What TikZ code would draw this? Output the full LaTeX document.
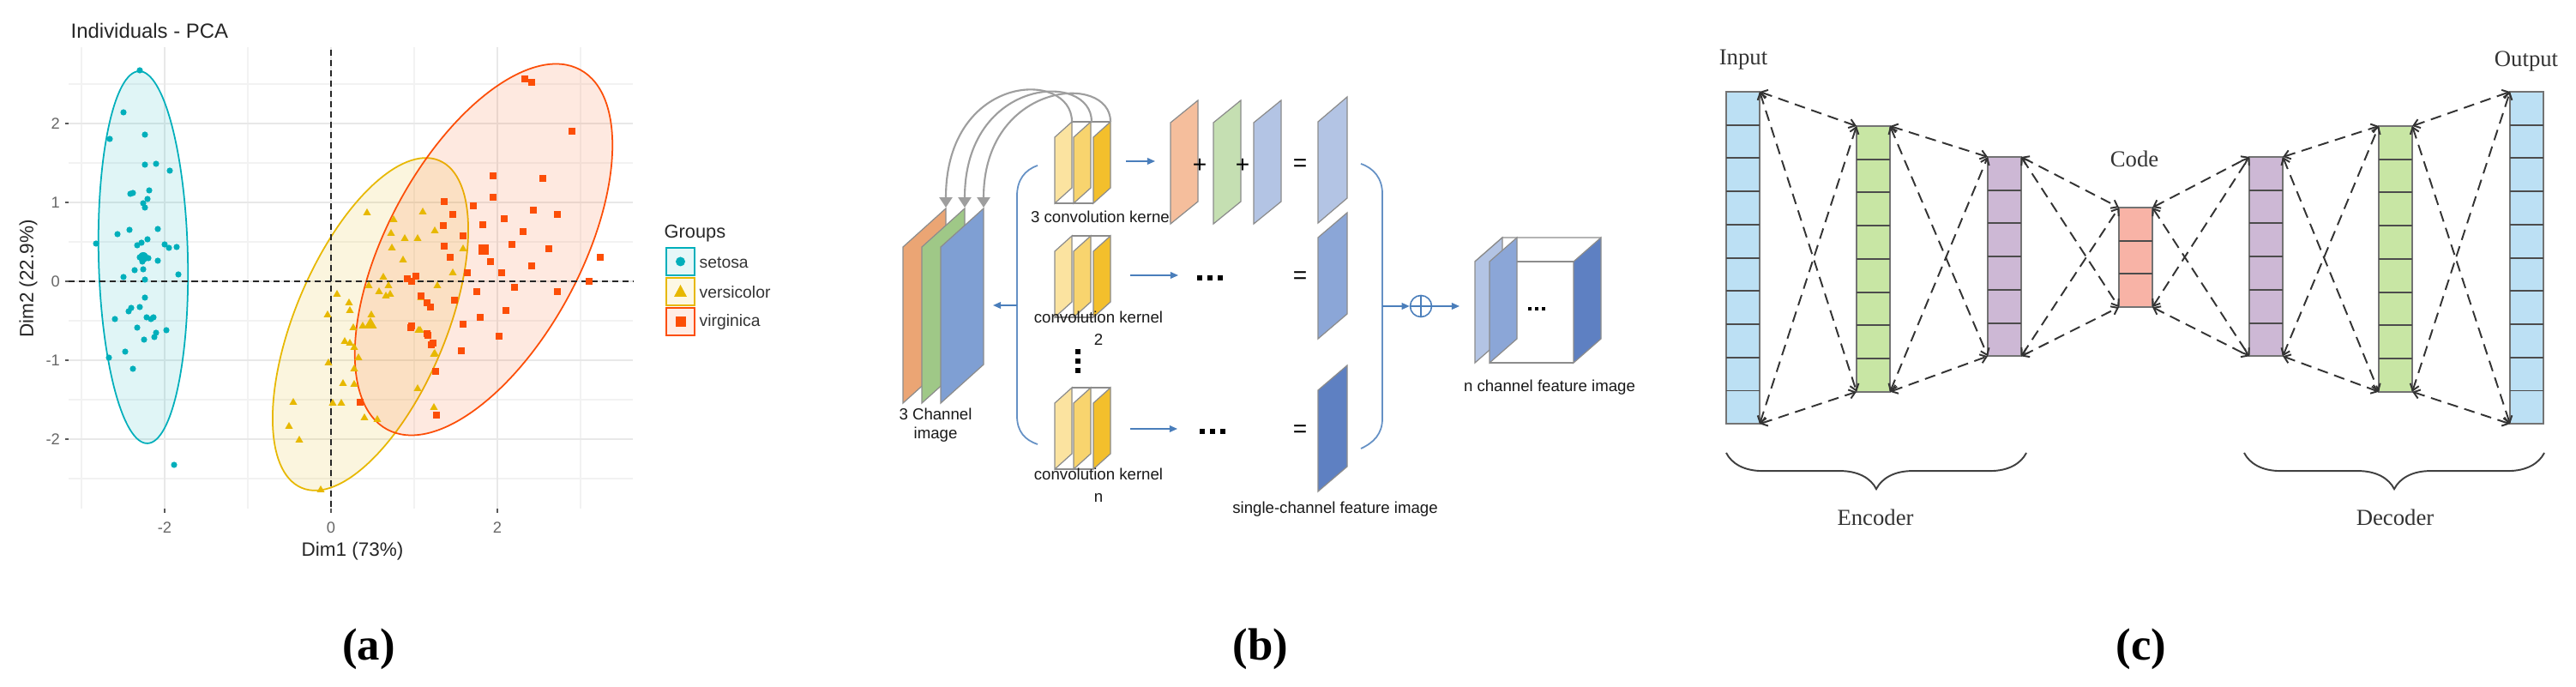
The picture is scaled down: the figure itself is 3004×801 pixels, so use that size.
\documentclass[tikz,border=0pt]{standalone}
\usepackage{fontspec}
\setmainfont{Liberation Serif}
\newfontfamily\arial{Liberation Sans}
\usetikzlibrary{arrows.meta,calc,decorations.pathreplacing}
\definecolor{setc}{HTML}{00AFBB}
\definecolor{verc}{HTML}{E7B800}
\definecolor{virc}{HTML}{FC4E07}
\definecolor{chor}{HTML}{EBA574}
\definecolor{chgr}{HTML}{9FC887}
\definecolor{chbl}{HTML}{7F9FD3}
\definecolor{ky1}{HTML}{FBE3A0}
\definecolor{ky2}{HTML}{F8D46E}
\definecolor{ky3}{HTML}{F3BF2C}
\definecolor{ror}{HTML}{F5BE9C}
\definecolor{rgr}{HTML}{C5DFB2}
\definecolor{rbl}{HTML}{B3C4E4}
\definecolor{res2}{HTML}{8BA6D7}
\definecolor{res3}{HTML}{5E80C2}
\definecolor{bluel}{HTML}{4A7EBB}
\definecolor{cin}{HTML}{BCE0F4}
\definecolor{cgr}{HTML}{C8E6A4}
\definecolor{cpu}{HTML}{CDB8D5}
\definecolor{cco}{HTML}{F8B3A6}
\newcommand\myfs[1]{\fontsize{#1pt}{#1pt}\selectfont}
\newcommand\nnplane[6]{\filldraw[fill=#6,draw=black!45,line width=0.35pt] (#1,#2) -- ++(#3,-#4) -- ++(0,#5) -- ++(-#3,#4) -- cycle;}
\newcommand\nncol[5]{%
  \node[colsty,fill=#5,minimum height=#4*3.87mm,anchor=north west] (#1) at (#2,#3) {};
  \pgfmathtruncatemacro\nnlast{#4-1}%
  \foreach \k in {1,...,\nnlast} \draw[cellline] ($(#1.north west)!\k/#4!(#1.south west)$) -- ($(#1.north east)!\k/#4!(#1.south east)$);}
\begin{document}
\begin{tikzpicture}[x=0.01cm,y=-0.01cm,
  gmaj/.style={draw=black!9,line width=0.55pt},
  gmin/.style={draw=black!5,line width=0.3pt},
  zline/.style={draw=black!85,dash pattern=on 2pt off 1.4pt,line width=0.4pt},
  tickm/.style={draw=black!65,line width=0.5pt},
  ticklab/.style={font=\arial\myfs{5.2},text=black!60,inner sep=1pt},
  axlab/.style={font=\arial\myfs{6.4},text=black!85,inner sep=0pt},
  leglab/.style={font=\arial\myfs{5.5},text=black!80,anchor=west,inner sep=0pt},
  btxt/.style={font=\arial\myfs{5.3},text=black!90,inner sep=0pt},
  opsym/.style={font=\arial\myfs{8},inner sep=0pt},
  garc/.style={draw=black!38,line width=0.6pt,arrows={-Triangle[width=4.3pt,length=3.4pt]}},
  barr/.style={draw=bluel,line width=0.45pt,arrows={-Triangle[width=2.2pt,length=2.6pt]}},
  brk/.style={draw=bluel!85,line width=0.5pt},
  colsty/.style={draw=black!55,line width=0.5pt,minimum width=3.9mm,inner sep=0pt,outer sep=0pt},
  cellline/.style={draw=black!70,line width=0.55pt},
  dconn/.style={draw=black!80,line width=0.55pt,dash pattern=on 3.6pt off 2.2pt,
     arrows={Straight Barb[length=2pt,width=3pt]-Straight Barb[length=2pt,width=3pt]}},
  ctxt/.style={font=\myfs{7.6},text=black!80,inner sep=0pt},
  brl/.style={draw=black!75,line width=0.55pt},
  plab/.style={font=\bfseries\myfs{15},inner sep=0pt}]
\useasboundingbox (0,0) rectangle (3004,801);
\fill[white] (0,0) rectangle (3004,801);

%% ================= panel (a) =================
\node[font=\arial\myfs{6.8},text=black!85,anchor=west,inner sep=0pt] (atitle) at (82,36) {Individuals - PCA};
\foreach \gx in {95,289,483,677} \draw[gmin] (\gx,55) -- (\gx,593);
\foreach \gy in {98,190,282,374,466,558} \draw[gmin] (80,\gy) -- (738,\gy);
\foreach \gx in {192,386,580} \draw[gmaj] (\gx,55) -- (\gx,593);
\foreach \gy in {144,236,328,420,512} \draw[gmaj] (80,\gy) -- (738,\gy);
% ellipses
\begin{scope}[shift={(167,300)},rotate=1.3]
  \filldraw[fill=setc,fill opacity=0.12,draw=setc,line width=0.5pt] (0,0) ellipse [x radius=52,y radius=217];
\end{scope}
\begin{scope}[shift={(432,378)},rotate=67.2]
  \filldraw[fill=verc,fill opacity=0.13,draw=verc,line width=0.5pt] (0,0) ellipse [x radius=207,y radius=88];
\end{scope}
\begin{scope}[shift={(564,291)},rotate=61.8]
  \filldraw[fill=virc,fill opacity=0.12,draw=virc,line width=0.5pt] (0,0) ellipse [x radius=238,y radius=113];
\end{scope}
% zero lines
\draw[zline] (386,58) -- (386,592);
\draw[zline] (80,328) -- (738,328);
% ticks
\foreach \gy/\lab in {144/2,236/1,328/0,420/-1,512/-2}{
  \draw[tickm] (76,\gy) -- (80,\gy);
  \node[ticklab,anchor=east] at (74,\gy) {\lab};}
\foreach \gx/\lab in {192/-2,386/0,580/2}{
  \draw[tickm] (\gx,593) -- (\gx,598);
  \node[ticklab] at (\gx,615) {\lab};}
\node[axlab] (xlab) at (411,643) {Dim1 (73\%)};
\node[axlab,rotate=90] (ylab) at (33,325) {Dim2 (22.9\%)};
% setosa points
\foreach \p in {(163,82),(144,131),(128,162),(169,157),(169,192),(182,191),(198,199),(152,226),(155,225),(174,222),(172,232),(167,237),(169,242),(151,268),(137,273),(184,267),(112,284),(160,286),(165,283),(172,279),(192,285),(197,289),(206,288),(163,300),(168,298),(173,301),(166,305),(184,304),(157,315),(167,314),(144,323),(169,326),(208,320),(169,347),(153,359),(150,363),(163,358),(134,372),(171,370),(176,372),(179,370),(160,382),(194,385),(182,388),(180,393),(168,396),(146,410),(127,417),(155,430),(203,542)}
  \fill[setc] \p circle (3.6);
\fill[setc] (167,300) circle (6);
% versicolor points
\foreach \p in {(428,248),(493,247),(459,256),(456,272),(472,278),(487,278),(507,269),(457,289),(470,303),(447,323),(453,333),(430,333),(393,343),(442,340),(450,345),(455,343),(510,333),(491,347),(407,353),(408,362),(382,367),(433,367),(423,380),(412,382),(402,398),(408,400),(413,405),(488,385),(507,412),(418,417),(383,423),(413,430),(400,447),(413,448),(342,469),(388,470),(398,470),(337,497),(349,513),(425,487),(440,489),(374,571),(487,453),(506,413),(506,475),(490,385),(528,318),(540,290)}
  \fill[verc] \p +(0,-5) -- +(4.6,3) -- +(-4.6,3) -- cycle;
\fill[verc] (432,378) +(0,-8) -- +(7.5,5) -- +(-7.5,5) -- cycle;
% virginica points
\foreach \p in {(518,235),(517,263),(518,287),(475,325),(480,328),(485,322),(491,345),(498,353),(502,358),(480,380),(498,389),(505,400),(479,382),(499,391),(503,402),(508,433),(420,469),(509,484),(538,409),(582,392),(528,250),(540,275),(552,240),(563,262),(575,230),(588,255),(597,285),(610,270),(622,245),(572,305),(585,318),(545,318),(530,350),(556,340),(600,335),(620,310),(640,290),(650,250),(633,208),(667,153),(612,92),(620,96),(687,328),(700,300),(560,370),(590,362),(540,378),(650,340),(575,205),(525,300)}
  \fill[virc] \p +(-3.6,-3.6) rectangle +(3.6,3.6);
\fill[virc] (564,291) +(-6,-6) rectangle +(6,6);
% legend
\node[font=\arial\myfs{6.2},text=black!85,anchor=west,inner sep=0pt] (legt) at (774,272) {Groups};
\filldraw[draw=setc,fill=setc!10,line width=0.5pt] (777,289) rectangle (810,321);
\fill[setc] (793.5,305) circle (5.5);
\node[leglab] (lg1) at (815,306) {setosa};
\filldraw[draw=verc,fill=verc!10,line width=0.5pt] (777,324) rectangle (810,356);
\fill[verc] (793.5,340) +(0,-8) -- +(7.5,6) -- +(-7.5,6) -- cycle;
\node[leglab] (lg2) at (815,341) {versicolor};
\filldraw[draw=virc,fill=virc!10,line width=0.5pt] (777,359) rectangle (810,391);
\fill[virc] (793.5,375) +(-6,-6) rectangle +(6,6);
\node[leglab] (lg3) at (815,376) {virginica};
\node[plab] (la) at (430,757) {(a)};

%% ================= panel (b) =================
% 3 channel image
\nnplane{1053}{288}{50}{45}{182}{chor}
\nnplane{1075}{288}{50}{45}{182}{chgr}
\nnplane{1097}{288}{50}{45}{182}{chbl}
\node[btxt,align=center] (ch3) at (1091,496) {3 Channel\\[1pt]image};
% kernel stacks
\foreach \ky in {160,293,470}{
  \nnplane{1230}{\ky}{20}{18}{77}{ky1}
  \nnplane{1252}{\ky}{20}{18}{77}{ky2}
  \nnplane{1275}{\ky}{20}{18}{77}{ky3}
  \draw[black!45,line width=0.35pt] (1250,\ky-18) -- (1295,\ky-18);
  \draw[black!45,line width=0.35pt] (1230,\ky+77) -- (1275,\ky+77);}
\node[btxt] (k1lab) at (1285,253) {3 convolution kernel};
\node[btxt,align=center] (k2lab) at (1281,383) {convolution kernel\\[2pt]2};
\node[btxt,align=center] (k3lab) at (1281,566) {convolution kernel\\[2pt]n};
\foreach \vy in {410,421,432} \fill (1257,\vy) +(-2.6,-2.6) rectangle +(2.6,2.6);
% curved arrows from kernels to channels
\coordinate (kt1) at (1250,142); \coordinate (kt2) at (1273,142); \coordinate (kt3) at (1295,142);
\coordinate (ct1) at (1103,242); \coordinate (ct2) at (1125,242); \coordinate (ct3) at (1147,242);
\draw[garc] (kt1) .. controls (1250,80) and (1103,85) .. (ct1);
\draw[garc] (kt2) .. controls (1273,82) and (1125,90) .. (ct2);
\draw[garc] (kt3) .. controls (1295,84) and (1147,95) .. (ct3);
% row arrows
\coordinate (ra1) at (1313,188); \coordinate (rb1) at (1347,188);
\coordinate (ra2) at (1318,321); \coordinate (rb2) at (1374,321);
\coordinate (ra3) at (1318,500); \coordinate (rb3) at (1373,500);
\draw[barr] (ra1) -- (rb1);
\draw[barr] (ra2) -- (rb2);
\draw[barr] (ra3) -- (rb3);
% row 1 planes
\nnplane{1365}{143}{32}{26}{118}{ror}
\nnplane{1415}{143}{32}{26}{118}{rgr}
\nnplane{1462}{143}{32}{26}{118}{rbl}
\node[opsym] (pl1) at (1399,193) {+};
\node[opsym] (pl2) at (1449,193) {+};
\node[opsym] (eq1) at (1516,193) {=};
\node[opsym] (eq2) at (1516,324) {=};
\node[opsym] (eq3) at (1516,503) {=};
\foreach \dx in {1399,1411,1423} {\fill (\dx,324) +(-2.6,-2.6) rectangle +(2.6,2.6); \fill (\dx+3,503) +(-2.6,-2.6) rectangle +(2.6,2.6);}
% result planes
\nnplane{1537}{142}{34}{29}{118}{rbl}
\nnplane{1537}{277}{34}{29}{118}{res2}
\nnplane{1537}{455}{34}{29}{118}{res3}
\node[btxt] (sclab) at (1557,594) {single-channel feature image};
% brackets
\draw[brk] (1210,193) .. controls (1195,198) and (1186,210) .. (1186,228) -- (1186,485) .. controls (1186,503) and (1195,513) .. (1210,518);
\draw[brk] (1587,191) .. controls (1602,196) and (1612,208) .. (1612,226) -- (1612,488) .. controls (1612,506) and (1602,516) .. (1587,523);
\coordinate (lbm) at (1186,356); \coordinate (chin) at (1158,356);
\draw[barr] (lbm) -- (chin);
\node[circle,draw=bluel,line width=0.45pt,minimum size=0.25cm,inner sep=0pt] (oplus) at (1657,357) {};
\draw[draw=bluel,line width=0.45pt] (oplus.north) -- (oplus.south) (oplus.west) -- (oplus.east);
\coordinate (rbm) at (1612,357); \coordinate (nin) at (1702,357);
\draw[barr] (rbm) -- (oplus.west);
\draw[barr] (oplus.east) -- (nin);
% n channel feature image
\draw[black!45,line width=0.4pt] (1720,305) -- (1752,277) -- (1867,277);
\nnplane{1720}{305}{32}{28}{118}{rbl}
\nnplane{1737}{305}{32}{28}{118}{res2}
\draw[black!45,line width=0.4pt] (1769,305) -- (1835,305);
\draw[black!45,line width=0.4pt] (1737,423) -- (1835,423);
\nnplane{1835}{305}{32}{28}{118}{res3}
\foreach \dx in {1784,1792,1800} \fill (\dx,360) +(-1.8,-1.8) rectangle +(1.8,1.8);
\node[btxt] (nlab) at (1807,452) {n channel feature image};
\node[plab] (lb) at (1470,757) {(b)};

%% ================= panel (c) =================
\nncol{cin1}{2013}{107}{10}{cin}
\nncol{cg1}{2165}{147}{8}{cgr}
\nncol{cp1}{2318}{183}{6}{cpu}
\nncol{cc}{2471}{242}{3}{cco}
\nncol{cp2}{2623}{183}{6}{cpu}
\nncol{cg2}{2774}{147}{8}{cgr}
\nncol{cout}{2927}{107}{10}{cin}
\foreach \a/\b in {cin1/cg1,cg1/cp1,cp1/cc,cc/cp2,cp2/cg2,cg2/cout}{
  \draw[dconn] (\a.north east) -- (\b.north west);
  \draw[dconn] (\a.north east) -- (\b.south west);
  \draw[dconn] (\a.south east) -- (\b.north west);
  \draw[dconn] (\a.south east) -- (\b.south west);}
\node[ctxt] (tin) at (2033,70) {Input};
\node[ctxt] (tcode) at (2489,185) {Code};
\node[ctxt] (tout) at (2946,72) {Output};
\draw[brl,decorate,decoration={brace,mirror,amplitude=12pt}] (2013,528) -- (2363,528);
\draw[brl,decorate,decoration={brace,mirror,amplitude=12pt}] (2617,528) -- (2967,528);
\node[ctxt] (tenc) at (2187,603) {Encoder};
\node[ctxt] (tdec) at (2793,603) {Decoder};
\node[plab] (lc) at (2497,757) {(c)};
\end{tikzpicture}
\end{document}
